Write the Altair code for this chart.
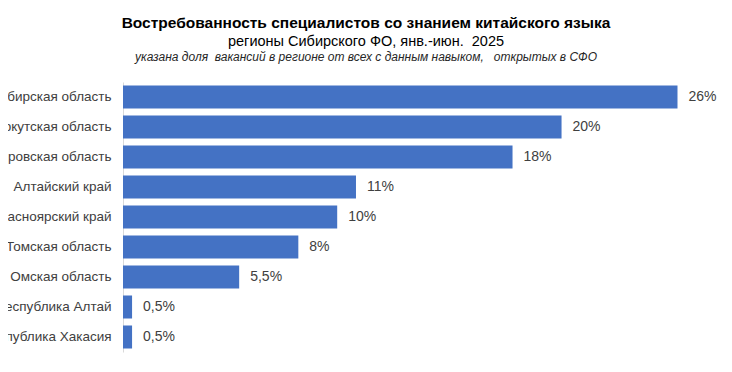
import altair as alt
import pandas as pd

regions = [
    "Новосибирская область",
    "Иркутская область",
    "Кемеровская область",
    "Алтайский край",
    "Красноярский край",
    "Томская область",
    "Омская область",
    "Республика Алтай",
    "Республика Хакасия",
]
values = [25.68, 20.31, 18.04, 10.79, 9.92, 8.12, 5.38, 0.42, 0.42]
labels = ["26%", "20%", "18%", "11%", "10%", "8%", "5,5%", "0,5%", "0,5%"]

title_1 = "Востребованность специалистов со знанием китайского языка"
title_2 = "регионы Сибирского ФО, янв.-июн.\u00a0 2025"
title_3 = "указана доля\u00a0 вакансий в регионе от всех с данным навыком,\u00a0\u00a0 открытых в СФО"

df = pd.DataFrame({"region": regions, "value": values, "label": labels})

FONT = "Liberation Sans"
W, H = 583, 270

y_enc = alt.Y(
    "region:N",
    sort=regions,
    scale=alt.Scale(paddingInner=0.233, paddingOuter=0.1165),
    axis=alt.Axis(
        title=None,
        ticks=False,
        domain=True,
        domainColor="#d9d9d9",
        domainWidth=1,
        labelFont=FONT,
        labelFontSize=13.5,
        labelColor="#404040",
        labelPadding=12,
        grid=False,
    ),
)
x_enc = alt.X(
    "value:Q",
    scale=alt.Scale(domain=[0, 27], nice=False),
    axis=None,
)

bars = alt.Chart(df).mark_bar(color="#4472C4").encode(x=x_enc, y=y_enc)

texts = alt.Chart(df).mark_text(
    align="left", baseline="middle", dx=11, font=FONT, fontSize=14, color="#404040"
).encode(x=x_enc, y=alt.Y("region:N", sort=regions), text="label:N")

t1 = alt.Chart(pd.DataFrame({"t": [title_1]})).mark_text(
    align="center", baseline="alphabetic", font=FONT, fontSize=15.5, fontWeight="bold", color="#000000"
).encode(x=alt.value(243), y=alt.value(-54), text="t:N")
t2 = alt.Chart(pd.DataFrame({"t": [title_2]})).mark_text(
    align="center", baseline="alphabetic", font=FONT, fontSize=14.5, color="#000000"
).encode(x=alt.value(243), y=alt.value(-36), text="t:N")
t3 = alt.Chart(pd.DataFrame({"t": [title_3]})).mark_text(
    align="center", baseline="alphabetic", font=FONT, fontSize=12, fontStyle="italic", color="#262626"
).encode(x=alt.value(243), y=alt.value(-21), text="t:N")

chart = (
    alt.layer(bars, texts, t1, t2, t3)
    .properties(
        width=W,
        height=H,
        autosize=alt.AutoSizeParams(type="none"),
        padding={"left": 115, "top": 74, "right": 18, "bottom": 12},
        background="white",
    )
    .configure_view(stroke=None)
)

chart.save("out.html", embed_options={"renderer": "svg", "actions": False})
